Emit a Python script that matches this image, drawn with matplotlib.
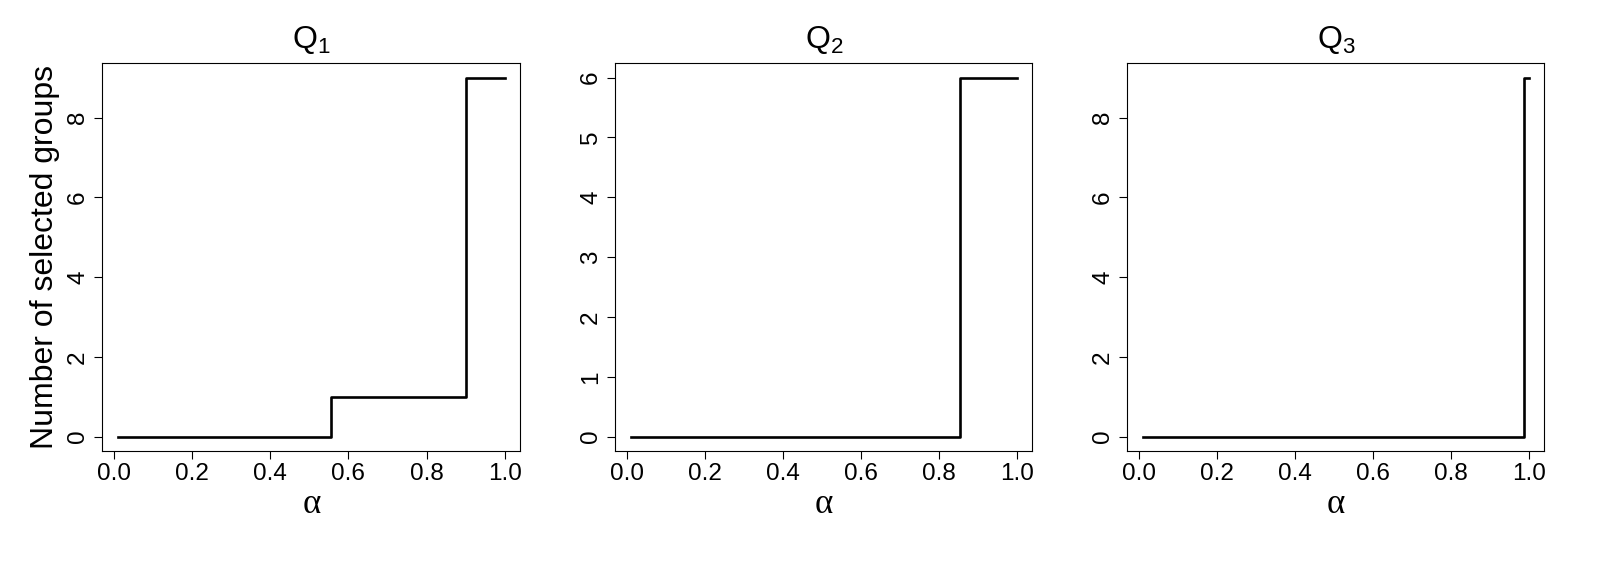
import numpy as np
import matplotlib
matplotlib.use("Agg")
from matplotlib import pyplot as plt

plt.rcParams['font.family'] = ['Liberation Sans', 'DejaVu Sans']
plt.rcParams['mathtext.fontset'] = 'custom'
plt.rcParams['mathtext.rm'] = 'Liberation Sans'

# step data (alpha where the count jumps)
q1_alpha = [0.01, 0.555, 0.90, 1.0]
q1_groups = [0, 1, 9, 9]
q2_alpha = [0.01, 0.854, 1.0]
q2_groups = [0, 6, 6]
q3_alpha = [0.01, 0.988, 1.0]
q3_groups = [0, 9, 9]

titles = [r'$\mathrm{Q}_1$', r'$\mathrm{Q}_2$', r'$\mathrm{Q}_3$']
series = [(q1_alpha, q1_groups), (q2_alpha, q2_groups), (q3_alpha, q3_groups)]
yticks = [[0, 2, 4, 6, 8], [0, 1, 2, 3, 4, 5, 6], [0, 2, 4, 6, 8]]
xticks = [0.0, 0.2, 0.4, 0.6, 0.8, 1.0]

fig = plt.figure(figsize=(16, 5.62), dpi=100)
lefts = [0.0639, 0.3846, 0.7046]
rights = [0.3252, 0.6452, 0.9652]
bottom, top = 0.1975, 0.8874

for i in range(3):
    ax = fig.add_axes([lefts[i], bottom, rights[i] - lefts[i], top - bottom])
    x, y = series[i]
    ax.plot(x, y, drawstyle='steps-post', color='black', lw=1.9)
    # R style 4% padding
    xr = max(x) - min(x)
    yr = max(y) - min(y)
    ax.set_xlim(min(x) - 0.04 * xr, max(x) + 0.04 * xr)
    ax.set_ylim(min(y) - 0.04 * yr, max(y) + 0.04 * yr)
    ax.set_xticks(xticks)
    ax.set_xticklabels(['%.1f' % t for t in xticks])
    ax.set_yticks(yticks[i])
    ax.set_yticklabels([str(t) for t in yticks[i]], rotation=90, va='center')
    ax.tick_params(axis='both', direction='out', length=6, width=0.8, labelsize=17.5)
    ax.tick_params(axis='x', pad=2.5)
    ax.tick_params(axis='y', pad=3.5)
    for s in ax.spines.values():
        s.set_linewidth(0.8)
    ax.set_title(titles[i], fontsize=23, pad=11)
    ax.set_xlabel('α', fontsize=25, family=['Liberation Serif', 'DejaVu Serif'], labelpad=2)
    if i == 0:
        ax.set_ylabel('Number of selected groups', fontsize=23)
        ax.yaxis.set_label_coords(-0.102, 0.5)

fig.savefig('out.png', dpi=100)
